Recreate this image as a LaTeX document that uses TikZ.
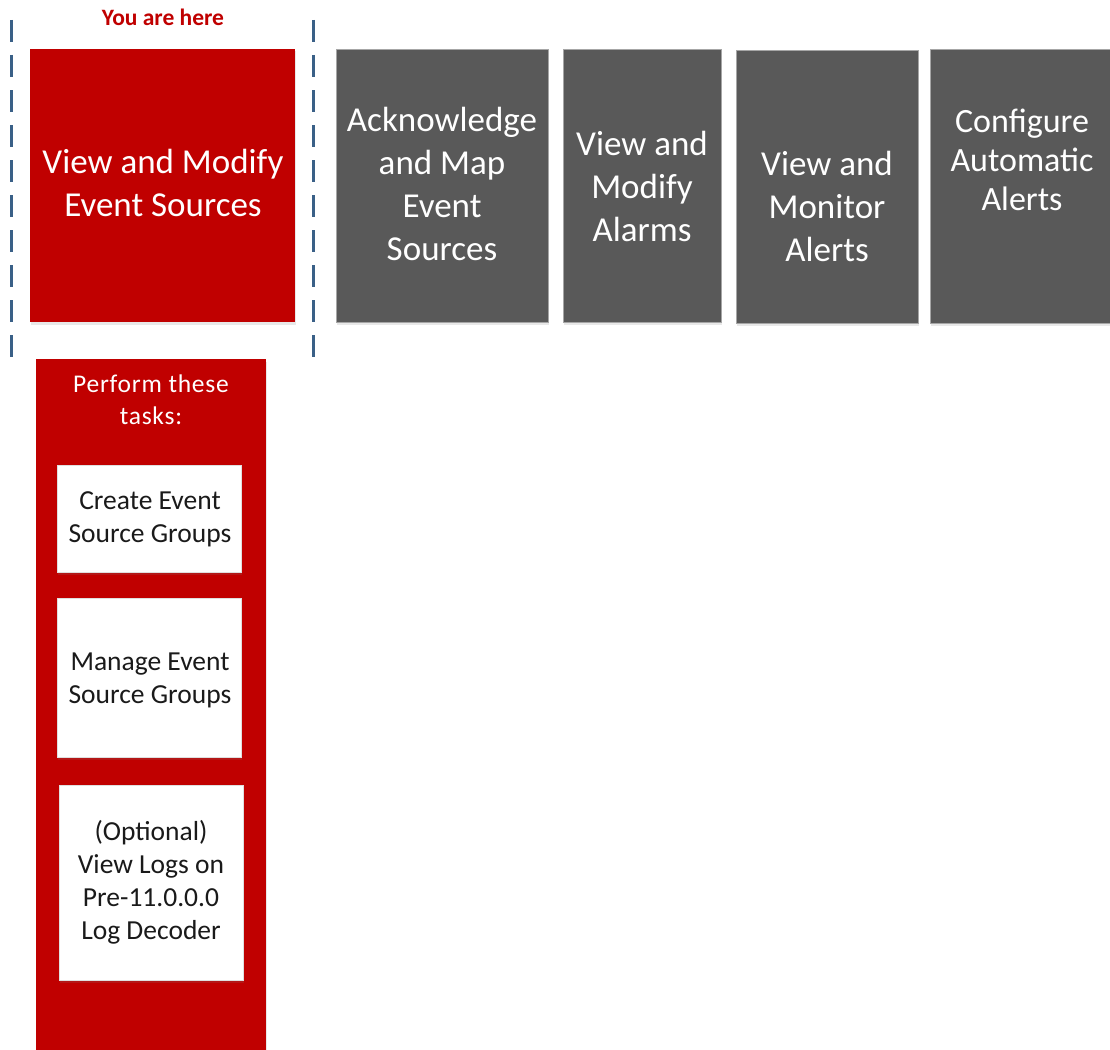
\documentclass[tikz,border=0pt]{standalone}
\usepackage{fontspec}
\setmainfont{Carlito}
\usetikzlibrary{shadows}
\definecolor{rsared}{HTML}{C00000}
\definecolor{stepgray}{HTML}{595959}
\definecolor{dashblue}{HTML}{3A6087}
\definecolor{textdark}{HTML}{1A1A1A}
\tikzset{
  boxbase/.style={rectangle, anchor=north west, inner sep=0pt, outer sep=0pt,
    drop shadow={opacity=0.18, shadow xshift=0.5pt, shadow yshift=-2.5pt}},
  redbox/.style={boxbase, fill=rsared, draw=none},
  graybox/.style={boxbase, fill=stepgray, draw=gray!70, line width=0.8pt},
  whitebox/.style={boxbase, fill=white, draw=gray!25, line width=0.6pt},
  bigtext/.style={inner sep=0pt, align=center, text=white, font=\fontsize{35}{43}\selectfont},
  midtext/.style={inner sep=0pt, align=center, text=white, font=\fontsize{25.5}{32}\selectfont\addfontfeature{LetterSpace=3}},
  tasktext/.style={inner sep=0pt, align=center, text=textdark, font=\fontsize{27.5}{33}\selectfont},
  herebar/.style={draw=dashblue, line width=3pt, dash pattern=on 22pt off 13pt},
}
\begin{document}
\begin{tikzpicture}[x=1pt, y=-1pt]
\useasboundingbox (0,0) rectangle (1110,1049);
\fill[white] (0,0) rectangle (1110,1049);

% "You are here" marker
\node[inner sep=0pt, text=rsared, font=\fontsize{23.5}{27}\selectfont\bfseries] (here) at (163,17) {You are here};
\coordinate (lt) at (11,20);
\coordinate (lb) at (11,360);
\coordinate (rt) at (313,20);
\coordinate (rb) at (313,360);
\draw[herebar] (lt) -- (lb);
\draw[herebar] (rt) -- (rb);

% top row of steps
\node[redbox, minimum width=265pt, minimum height=273pt] (s1) at (30,49) {};
\node[bigtext] (t1) at (163,183) {View and Modify\\Event Sources};

\node[graybox, minimum width=212pt, minimum height=273pt] (s2) at (336,49) {};
\node[bigtext] (t2) at (442,184) {Acknowledge\\and Map\\Event\\Sources};

\node[graybox, minimum width=158pt, minimum height=273pt] (s3) at (563,49) {};
\node[bigtext] (t3) at (642,186) {View and\\Modify\\Alarms};

\node[graybox, minimum width=182pt, minimum height=273pt] (s4) at (736,50) {};
\node[bigtext] (t4) at (827,206) {View and\\Monitor\\Alerts};

\node[graybox, minimum width=190pt, minimum height=274pt] (s5) at (930,49) {};
\node[bigtext, font=\fontsize{34}{39}\selectfont] (t5) at (1022,160) {Configure\\Automatic\\Alerts};

% task column
\node[redbox, minimum width=230pt, minimum height=700pt] (col) at (36,359) {};
\node[midtext] (pt) at (151,400) {Perform these\\tasks:};

\node[whitebox, minimum width=184pt, minimum height=107pt] (w1) at (57,465) {};
\node[tasktext] (x1) at (150,519) {Create Event\\Source Groups};

\node[whitebox, minimum width=184pt, minimum height=159pt] (w2) at (57,598) {};
\node[tasktext] (x2) at (150,680) {Manage Event\\Source Groups};

\node[whitebox, minimum width=184pt, minimum height=195pt] (w3) at (59,785) {};
\node[tasktext] (x3) at (151,882) {(Optional)\\View Logs on\\Pre-11.0.0.0\\Log Decoder};
\end{tikzpicture}
\end{document}
